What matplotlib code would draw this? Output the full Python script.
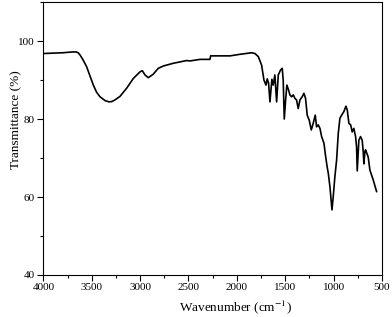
import matplotlib
matplotlib.use("Agg")
import matplotlib.pyplot as plt
from matplotlib.ticker import MultipleLocator

# ── Data ──────────────────────────────────────────────────────────────────────
wavenumber = [4000, 3800, 3700, 3660, 3640, 3620, 3590, 3552, 3520, 3483, 3450,
              3414, 3360, 3320, 3290, 3260, 3208, 3139, 3070, 3001, 2977, 2949,
              2915, 2864, 2812, 2760, 2657, 2519, 2485, 2381, 2278, 2271, 2071,
              1968, 1847, 1813, 1778, 1744, 1720, 1699, 1686, 1672, 1658, 1638,
              1624, 1607, 1589, 1572, 1548, 1531, 1521, 1510, 1496, 1483, 1465,
              1452, 1434, 1417, 1400, 1383, 1366, 1348, 1325, 1307, 1290, 1273,
              1252, 1231, 1211, 1190, 1176, 1159, 1141, 1124, 1100, 1082, 1066,
              1055, 1038, 1017, 1004, 987, 969, 952, 935, 917, 894, 873, 859, 842,
              824, 808, 791, 773, 763, 756, 739, 722, 705, 694, 687, 677, 670, 643,
              625, 591, 556]
transmittance = [96.8, 97.0, 97.2, 97.2, 97.0, 96.4, 95.2, 93.4, 91.2, 88.7, 86.9,
                 85.7, 84.7, 84.4, 84.5, 84.9, 85.8, 87.9, 90.4, 92.1, 92.4, 91.3,
                 90.6, 91.5, 93.0, 93.6, 94.3, 95.0, 94.9, 95.3, 95.3, 96.2, 96.2,
                 96.6, 97.0, 96.8, 96.0, 93.8, 90.0, 88.7, 90.3, 89.2, 84.4, 90.2,
                 88.7, 91.3, 84.4, 91.3, 92.6, 93.0, 90.0, 80.0, 84.9, 88.7, 87.4,
                 86.2, 85.7, 86.2, 85.3, 84.9, 82.7, 84.9, 85.7, 86.6, 85.3, 81.0,
                 79.7, 77.2, 78.9, 81.0, 78.0, 78.5, 77.6, 75.5, 73.8, 70.3, 67.6,
                 66.1, 62.6, 56.7, 60.1, 65.2, 69.5, 76.3, 80.2, 81.0, 81.9, 83.3,
                 82.3, 78.9, 78.5, 76.7, 77.6, 75.5, 72.9, 66.7, 74.6, 75.5, 74.6,
                 71.6, 68.5, 71.6, 72.1, 70.3, 66.9, 64.4, 61.4]

xticks = [4000, 3500, 3000, 2500, 2000, 1500, 1000, 500]
yticks = [40, 60, 80, 100]

plt.rcParams["font.family"] = ["Liberation Serif", "DejaVu Serif"]
plt.rcParams["mathtext.fontset"] = "stix"

fig = plt.figure(figsize=(3.92, 3.17), dpi=100)
ax = fig.add_axes([0.1105, 0.1325, 0.864, 0.861])

ax.plot(wavenumber, transmittance, color="black", lw=1.2)

ax.set_xlim(4000, 500)
ax.set_ylim(40, 110)
ax.set_xticks(xticks)
ax.set_yticks(yticks)
ax.xaxis.set_minor_locator(MultipleLocator(250))
ax.yaxis.set_minor_locator(MultipleLocator(10))
ax.tick_params(which="major", direction="out", length=4, width=0.8, labelsize=8, pad=2)
ax.tick_params(which="minor", direction="out", length=2.5, width=0.8)
for s in ax.spines.values():
    s.set_linewidth(0.8)

ax.set_xlabel("Wavenumber (cm$^{-1}$)", fontsize=9.5)
ax.set_ylabel("Transmittance (%)", fontsize=9.5)
# labels in the reference sit off-centre
ax.xaxis.set_label_coords(0.566, -0.085)
ax.yaxis.set_label_coords(-0.063, 0.568)

fig.savefig("out.png", dpi=100)
